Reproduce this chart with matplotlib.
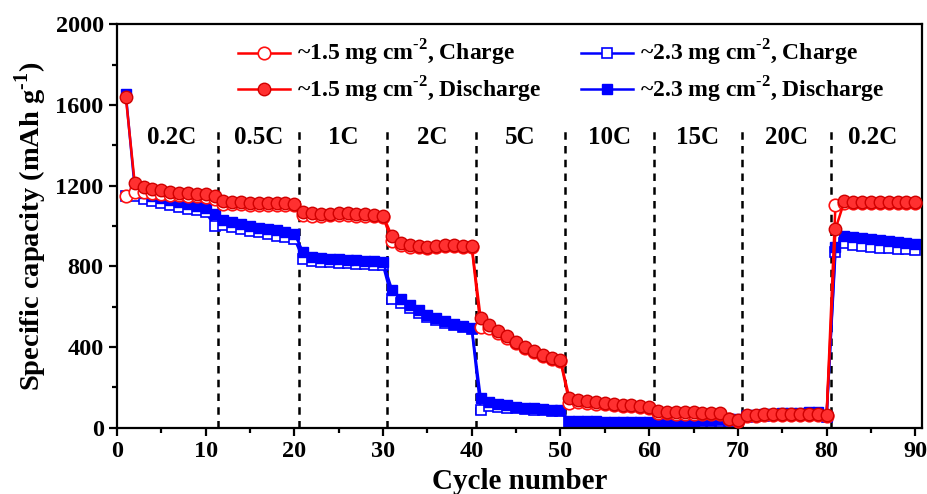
import numpy as np
import matplotlib
matplotlib.use('Agg')
import matplotlib.pyplot as plt
from matplotlib.ticker import MultipleLocator

plt.rcParams['font.family'] = ['Liberation Serif', 'DejaVu Serif']
plt.rcParams['font.weight'] = 'bold'
plt.rcParams['mathtext.fontset'] = 'custom'
plt.rcParams['mathtext.rm'] = 'Liberation Serif:bold'
plt.rcParams['mathtext.bf'] = 'Liberation Serif:bold'

cycles = np.arange(1, 91)

# ~1.5 mg cm-2
red_charge = [1150,
              1170, 1170, 1165, 1160, 1155, 1152, 1150, 1148, 1146, 1135,
              1110, 1110, 1108, 1106, 1106, 1105, 1104, 1104, 1102,
              1055, 1052, 1052, 1053, 1054, 1054, 1052, 1050, 1048, 1045,
              925, 905, 898, 895, 893, 896, 900, 900, 898, 895,
              500, 495, 470, 447, 420, 396, 376, 357, 342, 332,
              125, 128, 125, 120, 118, 114, 110, 107, 104, 100,
              72, 72, 70, 70, 70, 69, 68, 68, 42, 36,
              58, 60, 62, 62, 63, 64, 64, 65, 65, 60,
              1105,
              1112, 1112, 1112, 1112, 1112, 1112, 1112, 1112, 1112]
red_discharge = [1640,
                 1215, 1195, 1185, 1178, 1170, 1165, 1162, 1160, 1158, 1148,
                 1125, 1120, 1118, 1115, 1115, 1113, 1112, 1112, 1110,
                 1070, 1062, 1060, 1060, 1062, 1062, 1060, 1058, 1055, 1052,
                 950, 915, 905, 900, 898, 902, 905, 905, 903, 900,
                 545, 510, 480, 455, 425, 400, 380, 360, 345, 335,
                 148, 140, 135, 128, 125, 120, 115, 112, 108, 105,
                 82, 80, 78, 76, 76, 75, 74, 73, 45, 38,
                 62, 64, 66, 66, 66, 67, 67, 68, 68, 62,
                 985,
                 1122, 1120, 1120, 1120, 1120, 1120, 1120, 1120, 1120]

# ~2.3 mg cm-2
blue_charge = [1150,
               1150, 1135, 1125, 1115, 1105, 1095, 1085, 1078, 1070, 1000,
               1005, 995, 985, 975, 968, 960, 952, 945, 938,
               835, 825, 822, 820, 818, 815, 813, 810, 808, 805,
               640, 620, 595, 570, 550, 535, 520, 508, 498, 490,
               90, 110, 105, 100, 96, 92, 90, 87, 85, 83,
               22, 22, 21, 21, 20, 20, 20, 19, 19, 19,
               20, 22, 24, 26, 28, 30, 32, 34, 36, 38,
               55, 58, 60, 62, 64, 66, 67, 68, 68, 55,
               870,
               915, 908, 902, 897, 893, 890, 887, 884, 880]
blue_discharge = [1655,
                  1190, 1165, 1150, 1140, 1130, 1120, 1110, 1100, 1090, 1060,
                  1030, 1020, 1010, 1000, 992, 985, 978, 970, 962,
                  870, 845, 840, 838, 835, 832, 830, 828, 825, 822,
                  685, 640, 610, 585, 560, 545, 530, 515, 505, 495,
                  150, 130, 120, 112, 105, 100, 96, 93, 90, 88,
                  35, 34, 33, 32, 31, 30, 30, 29, 28, 28,
                  30, 32, 33, 35, 36, 38, 40, 42, 44, 46,
                  62, 65, 68, 70, 72, 74, 75, 76, 76, 60,
                  895,
                  950, 945, 940, 935, 930, 925, 920, 915, 910]

rate_labels = ['0.2C', '0.5C', '1C', '2C', '5C', '10C', '15C', '20C', '0.2C']
rate_bounds = [1.0, 11.4, 20.5, 30.5, 40.5, 50.5, 60.5, 70.5, 80.5, 90.0]

fig = plt.figure(figsize=(9.28, 4.94), dpi=100)
ax = fig.add_axes([0.126, 0.134, 0.867, 0.817])

ax.plot(cycles, blue_charge, '-s', color='#0000ff', lw=1.8, ms=7.5,
        mfc='white', mec='#0000ff', mew=1.2, label=r'~2.3 mg cm$^{\text{-2}}$, Charge', zorder=2)
ax.plot(cycles, blue_discharge, '-s', color='#0000ff', lw=1.8, ms=7.5,
        mfc='#0000ff', mec='#0000ff', label=r'~2.3 mg cm$^{\text{-2}}$, Discharge', zorder=2)
ax.plot(cycles, red_charge, '-o', color='#ff0000', lw=1.8, ms=9,
        mfc='white', mec='#ff1010', mew=1.2, label=r'~1.5 mg cm$^{\text{-2}}$, Charge', zorder=3)
ax.plot(cycles, red_discharge, '-o', color='#ff0000', lw=1.8, ms=9,
        mfc='#ff3030', mec='#d00000', mew=1.0, label=r'~1.5 mg cm$^{\text{-2}}$, Discharge', zorder=3)

for b in rate_bounds[1:-1]:
    ax.plot([b, b], [0, 1490], ls=(0, (3, 2.5)), color='black', lw=1.8, zorder=1)

for i, lab in enumerate(rate_labels):
    xm = (rate_bounds[i] + rate_bounds[i + 1]) / 2
    ax.text(xm, 1440, lab, ha='center', va='center', fontsize=18, fontweight='bold')

ax.set_xlim(0, 90.7)
ax.set_ylim(0, 2000)
ax.xaxis.set_major_locator(MultipleLocator(10))
ax.xaxis.set_minor_locator(MultipleLocator(5))
ax.yaxis.set_major_locator(MultipleLocator(400))
ax.yaxis.set_minor_locator(MultipleLocator(200))
ax.tick_params(which='major', direction='out', length=6, width=1.6, labelsize=17.5)
ax.tick_params(which='minor', direction='out', length=3.5, width=1.6)
for lbl in ax.get_xticklabels() + ax.get_yticklabels():
    lbl.set_fontweight('bold')
for sp in ax.spines.values():
    sp.set_linewidth(1.6)

ax.set_xlabel('Cycle number', fontsize=21, fontweight='bold', labelpad=4)
ax.set_ylabel(r'Specific capacity (mAh g$^{\text{-1}}$)', fontsize=20.5, fontweight='bold', labelpad=5)

h, l = ax.get_legend_handles_labels()
order = [2, 3, 0, 1]
ax.legend([h[i] for i in order], [l[i] for i in order], ncol=2, frameon=False,
          loc='upper center', bbox_to_anchor=(0.552, 1.018),
          handlelength=2.2, handletextpad=0.3, columnspacing=1.7, labelspacing=0.25,
          prop={'weight': 'bold', 'size': 17})

fig.savefig('out.png', dpi=100)
